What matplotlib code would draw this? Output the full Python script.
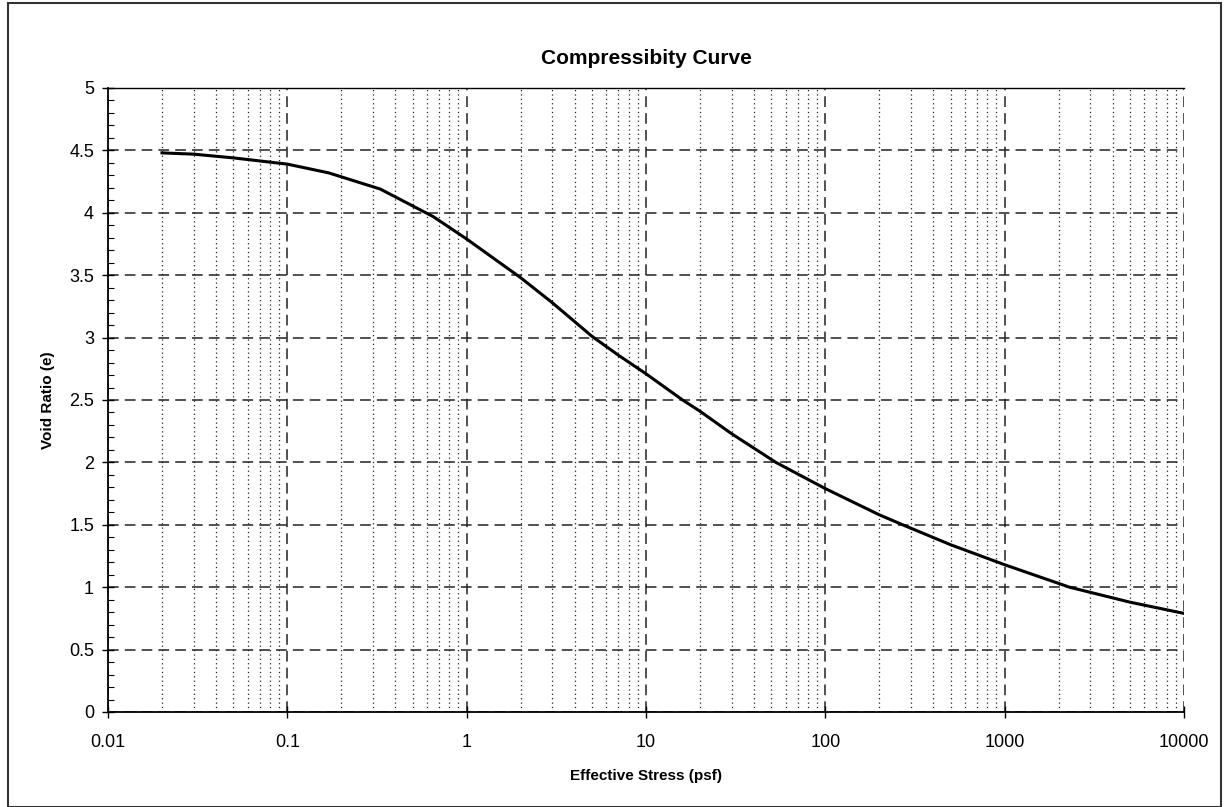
import matplotlib
matplotlib.use("Agg")
import matplotlib.pyplot as plt
from matplotlib.ticker import LogLocator, FixedLocator, MultipleLocator, NullFormatter
from matplotlib.patches import Rectangle

plt.rcParams['font.family'] = ['Liberation Sans', 'DejaVu Sans']

# effective stress (psf) and void ratio
stress = [0.02, 0.03, 0.05, 0.1, 0.17, 0.33, 0.65, 1, 2, 3, 5, 7, 10, 16, 20,
          30, 53, 100, 200, 270, 500, 1000, 2300, 5000, 10000]
void_ratio = [4.48, 4.47, 4.44, 4.39, 4.32, 4.19, 3.97, 3.79, 3.48, 3.28, 3.01,
              2.86, 2.71, 2.5, 2.41, 2.23, 2.0, 1.79, 1.58, 1.5, 1.34, 1.18,
              1.0, 0.88, 0.79]

x_ticks = [0.01, 0.1, 1, 10, 100, 1000, 10000]
x_labels = ['0.01', '0.1', '1', '10', '100', '1000', '10000']
y_ticks = [0, 0.5, 1, 1.5, 2, 2.5, 3, 3.5, 4, 4.5, 5]
y_labels = ['0', '0.5', '1', '1.5', '2', '2.5', '3', '3.5', '4', '4.5', '5']

fig = plt.figure(figsize=(12.27, 8.07), dpi=100)
ax = fig.add_axes([108 / 1227, 1 - 712 / 807, (1184 - 108) / 1227, (712 - 88) / 807])

ax.plot(stress, void_ratio, color='black', lw=2.2, zorder=3,
        solid_joinstyle='round')

ax.set_xscale('log')
ax.set_xlim(0.01, 10000)
ax.set_ylim(0, 5)
ax.xaxis.set_major_locator(FixedLocator(x_ticks))
ax.set_xticklabels(x_labels)
ax.xaxis.set_minor_locator(LogLocator(base=10, subs=range(2, 10), numticks=20))
ax.xaxis.set_minor_formatter(NullFormatter())
ax.set_yticks(y_ticks)
ax.set_yticklabels(y_labels)
ax.yaxis.set_minor_locator(MultipleLocator(0.1))

ax.grid(which='major', axis='both', color='#222222', ls=(0, (7, 4)), lw=1.1)
ax.grid(which='minor', axis='x', color='#222222', ls=(0, (1, 2.5)), lw=0.9)

ax.tick_params(axis='both', which='major', labelsize=13, direction='inout',
               length=8, width=1)
ax.tick_params(axis='x', which='major', pad=12)
ax.tick_params(axis='y', which='major', pad=6)
ax.tick_params(axis='x', which='minor', length=0)
ax.tick_params(axis='y', which='minor', direction='in', length=4, width=0.8)

ax.spines['right'].set_visible(False)
for side in ['left', 'bottom']:
    ax.spines[side].set_linewidth(1.3)
ax.spines['top'].set_linewidth(1.0)

ax.set_title('Compressibity Curve', fontsize=15, fontweight='bold', pad=17)
ax.set_xlabel('Effective Stress (psf)', fontsize=11, fontweight='bold', labelpad=13)
ax.set_ylabel('Void Ratio (e)', fontsize=11, fontweight='bold', labelpad=10)

# outer border around the chart
fig.patches.append(Rectangle((8 / 1227, 0.0), (1221 - 8) / 1227, 1 - 3 / 807,
                             transform=fig.transFigure, fill=False,
                             edgecolor='#333333', lw=1.5))

fig.savefig('out.png', dpi=100)
